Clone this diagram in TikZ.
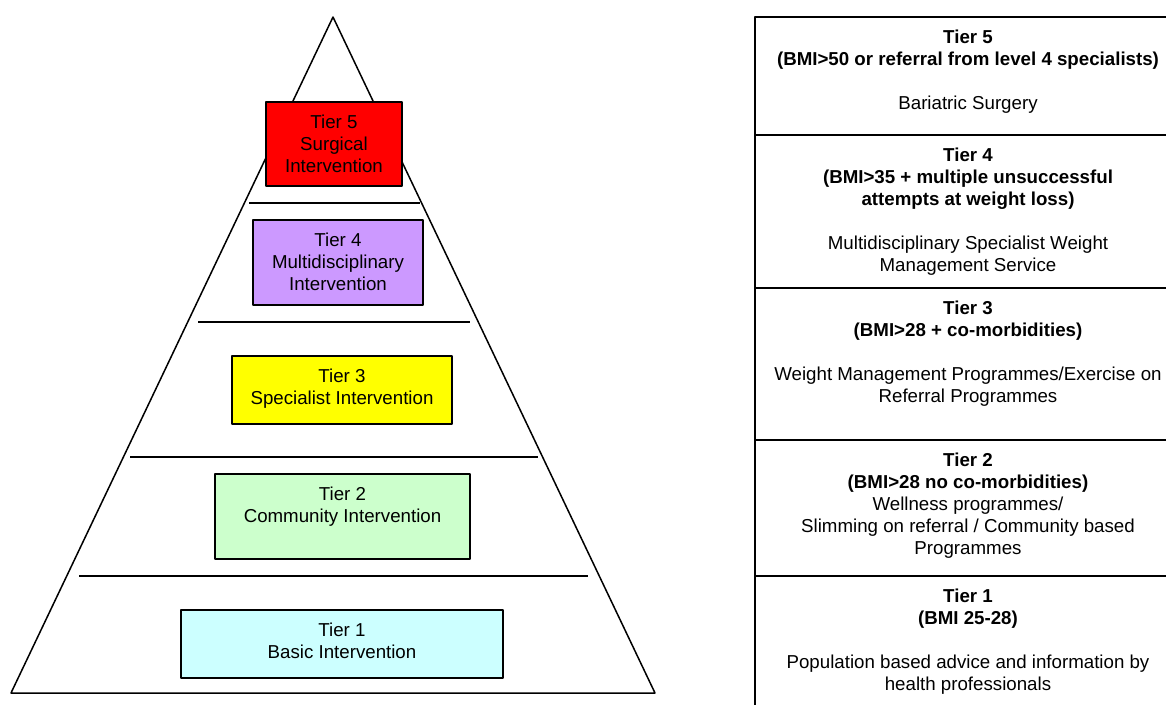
\documentclass[tikz,border=0pt]{standalone}
\usepackage{fontspec}
\setmainfont{Liberation Sans}
\definecolor{tierred}{HTML}{FF0000}
\definecolor{tierpurple}{HTML}{CC99FF}
\definecolor{tieryellow}{HTML}{FFFF00}
\definecolor{tiergreen}{HTML}{CCFFCC}
\definecolor{tiercyan}{HTML}{CCFFFF}
\begin{document}
\begin{tikzpicture}[x=1pt,y=-1pt,line join=round,font=\fontsize{18.7}{22}\selectfont,
	tierbox/.style={draw,line width=1.7pt,inner sep=0pt},
	rowbox/.style={draw,line width=1.8pt,inner sep=0pt,minimum width=426pt},
	boxtext/.style={anchor=north,inner sep=0pt,align=center}]
	\useasboundingbox (0,0) rectangle (1166,704);
	\clip (0,0) rectangle (1166,704);
	% pyramid
	\coordinate (apex) at (333,17);
	\coordinate (baseL) at (11,693);
	\coordinate (baseR) at (655,693);
	\draw[line width=1.5pt] (apex)--(baseL)--(baseR)--cycle;
	\draw[line width=1.5pt] (249,203)--(420,203);
	\draw[line width=1.5pt] (198,322)--(470,322);
	\draw[line width=1.5pt] (130,457)--(538,457);
	\draw[line width=1.5pt] (79,576)--(588,576);
	% tier boxes
	\node[tierbox,fill=tierred,minimum width=136pt,minimum height=84pt] (t5) at (334,144) {};
	\node[boxtext] (t5txt) at ([yshift=-13.3pt]t5.north) {Tier 5\\Surgical\\Intervention};
	\node[tierbox,fill=tierpurple,minimum width=170pt,minimum height=85pt] (t4) at (338,262.5) {};
	\node[boxtext] (t4txt) at ([yshift=-13.3pt]t4.north) {Tier 4\\Multidisciplinary\\Intervention};
	\node[tierbox,fill=tieryellow,minimum width=220pt,minimum height=68pt] (t3) at (342,390) {};
	\node[boxtext] (t3txt) at ([yshift=-13.3pt]t3.north) {Tier 3\\Specialist Intervention};
	\node[tierbox,fill=tiergreen,minimum width=255pt,minimum height=85pt] (t2) at (342.5,516.5) {};
	\node[boxtext] (t2txt) at ([yshift=-13.3pt]t2.north) {Tier 2\\Community Intervention};
	\node[tierbox,fill=tiercyan,minimum width=322pt,minimum height=68pt] (t1) at (342,644) {};
	\node[boxtext] (t1txt) at ([yshift=-13.3pt]t1.north) {Tier 1\\Basic Intervention};
	% table of criteria
	\node[rowbox,minimum height=118pt] (r5) at (968,76) {};
	\node[boxtext] (r5txt) at ([yshift=-13.3pt]r5.north) {\textbf{Tier 5}\\\textbf{(BMI>50 or referral from level 4 specialists)}\\[22pt]Bariatric Surgery};
	\node[rowbox,minimum height=153pt] (r4) at (968,211.5) {};
	\node[boxtext] (r4txt) at ([yshift=-13.3pt]r4.north) {\textbf{Tier 4}\\\textbf{(BMI>35 + multiple unsuccessful}\\\textbf{attempts at weight loss)}\\[22pt]Multidisciplinary Specialist Weight\\Management Service};
	\node[rowbox,minimum height=152pt] (r3) at (968,364) {};
	\node[boxtext] (r3txt) at ([yshift=-13.3pt]r3.north) {\textbf{Tier 3}\\\textbf{(BMI>28 + co-morbidities)}\\[22pt]Weight Management Programmes/Exercise on\\Referral Programmes};
	\node[rowbox,minimum height=136pt] (r2) at (968,508) {};
	\node[boxtext] (r2txt) at ([yshift=-13.3pt]r2.north) {\textbf{Tier 2}\\\textbf{(BMI>28 no co-morbidities)}\\Wellness programmes/\\Slimming on referral / Community based\\Programmes};
	\node[rowbox,minimum height=144pt] (r1) at (968,648) {};
	\node[boxtext] (r1txt) at ([yshift=-13.3pt]r1.north) {\textbf{Tier 1}\\\textbf{(BMI 25-28)}\\[22pt]Population based advice and information by\\health professionals};
\end{tikzpicture}
\end{document}
